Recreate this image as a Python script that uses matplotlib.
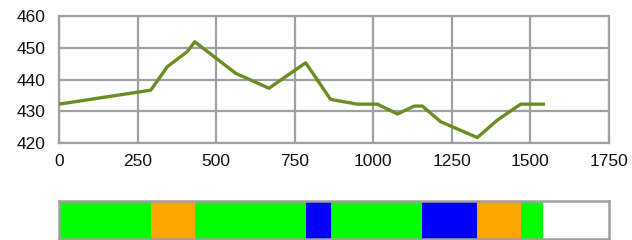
import matplotlib
matplotlib.use("Agg")
import matplotlib.pyplot as plt
from matplotlib.patches import Rectangle

# Elevation profile
dist = [0, 292, 345, 408, 432, 562, 668, 785, 864, 949, 1013, 1077, 1130, 1156, 1214, 1331, 1395, 1469, 1541]
elev = [432.3, 436.7, 444.1, 448.8, 451.9, 442.0, 437.3, 445.3, 433.8, 432.3, 432.3, 429.2, 431.7, 431.7, 426.8, 421.8, 427.3, 432.3, 432.3]

x_ticks = [0, 250, 500, 750, 1000, 1250, 1500, 1750]
y_ticks = [420, 430, 440, 450, 460]

# Colored segment bar
seg_start = [0, 292, 432, 785, 864, 1156, 1331, 1469, 1541]
seg_end = [292, 432, 785, 864, 1156, 1331, 1469, 1541, 1750]
seg_color = ["#00ff00", "#ffa500", "#00ff00", "#0000ff", "#00ff00", "#0000ff", "#ffa500", "#00ff00", "#ffffff"]

W, H = 632, 240
fig = plt.figure(figsize=(W / 100, H / 100), dpi=100)
plt.rcParams['font.family'] = ['Liberation Sans', 'DejaVu Sans']

grid_c = "#a0a0a0"

ax = fig.add_axes([59 / W, (H - 143.3) / H, 550 / W, 127.3 / H])
ax.plot(dist, elev, color="#6b8e23", lw=2.4, solid_joinstyle="round", zorder=3)
ax.set_xlim(0, 1750)
ax.set_ylim(420, 460)
ax.set_xticks(x_ticks)
ax.set_yticks(y_ticks)
ax.grid(True, color=grid_c, lw=1.6)
ax.set_axisbelow(True)
for s in ax.spines.values():
    s.set_color(grid_c)
    s.set_linewidth(1.6)
ax.tick_params(length=0, labelsize=12.5, colors="#111111")
ax.tick_params(axis="x", pad=8)
ax.tick_params(axis="y", pad=9.5)

bx = fig.add_axes([59 / W, (H - 239) / H, 550 / W, 38 / H])
bx.set_xlim(0, 1750)
bx.set_ylim(0, 1)
for s0, s1, c in zip(seg_start, seg_end, seg_color):
    bx.add_patch(Rectangle((s0, 0), s1 - s0, 1, facecolor=c, edgecolor="none"))
bx.set_xticks([])
bx.set_yticks([])
for s in bx.spines.values():
    s.set_color(grid_c)
    s.set_linewidth(1.8)

fig.savefig("out.png", dpi=100)
